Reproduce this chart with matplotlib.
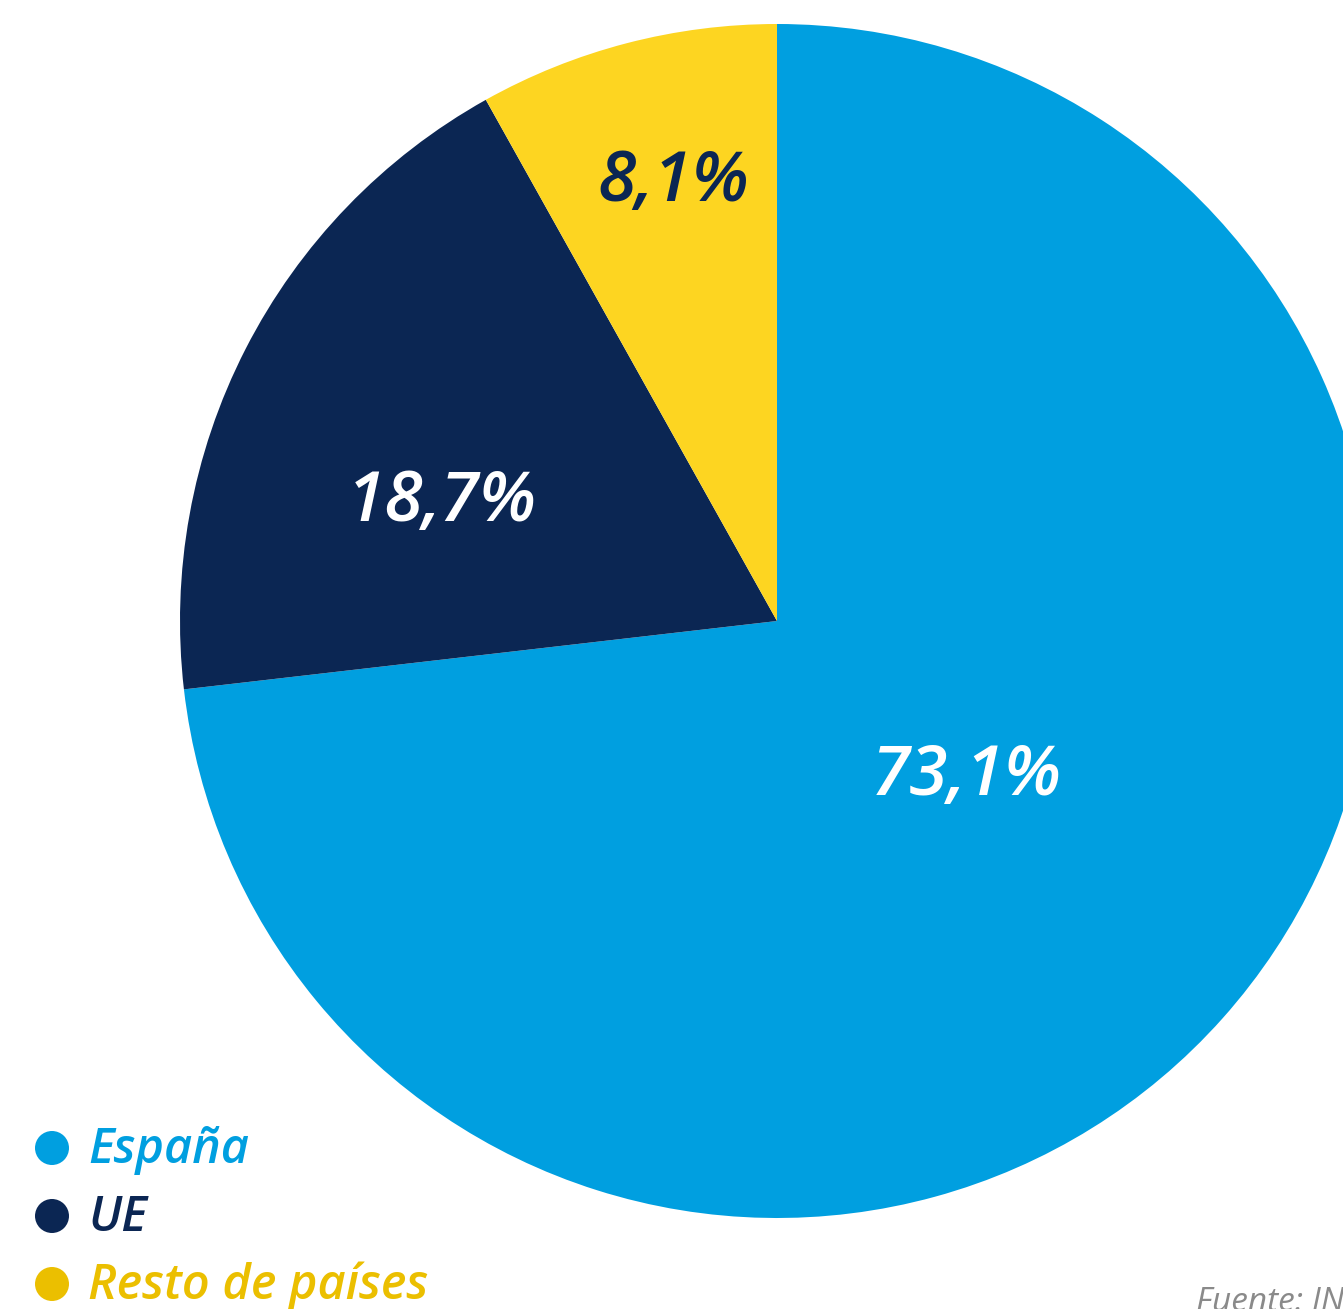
import matplotlib
matplotlib.use("Agg")
from matplotlib import pyplot as plt

# origin of the students' families
categories = ["España", "UE", "Resto de países"]
shares = [73.1, 18.7, 8.1]
label_text = ["73,1%", "18,7%", "8,1%"]

slice_colors = ["#009FE0", "#0B2653", "#FDD521"]
legend_dot_colors = ["#009FE0", "#0B2653", "#EBBF00"]
pct_colors = ["white", "white", "#0B2653"]

W, H = 1343, 1309
fig = plt.figure(figsize=(W / 100, H / 100), dpi=100)
ax = fig.add_axes([0, 0, 1, 1])

font = ["Open Sans", "DejaVu Sans"]

cx, cy, r = 777, H - 621, 597
ax.pie(shares, colors=slice_colors, startangle=90, counterclock=False,
       center=(cx, cy), radius=r, frame=True,
       wedgeprops=dict(linewidth=0))
ax.set_xlim(0, W)
ax.set_ylim(0, H)
ax.set_aspect("equal")
ax.axis("off")

# percentage labels inside the slices (x centre, baseline)
label_pos = [(967, 795), (442, 521), (673, 201)]
for (x, y), txt, c in zip(label_pos, label_text, pct_colors):
    ax.text(x, H - y, txt, color=c, fontsize=50, fontstyle="italic", fontweight="semibold",
            family=font, ha="center", va="baseline")

# legend
for i, (name, c) in enumerate(zip(categories, legend_dot_colors)):
    y = 1148 + 68 * i
    ax.add_patch(plt.Circle((52, H - y), 17, color=c, lw=0))
    ax.text(88, H - (y + 15), name, color=c, fontsize=35, fontstyle="italic",
            fontweight="semibold", family=font, ha="left", va="baseline")

ax.text(1196, H - 1311, "Fuente: INE", color="#8A8A8A", fontsize=24, fontstyle="italic",
        family=font, ha="left", va="baseline")

fig.savefig("out.png", dpi=100)
